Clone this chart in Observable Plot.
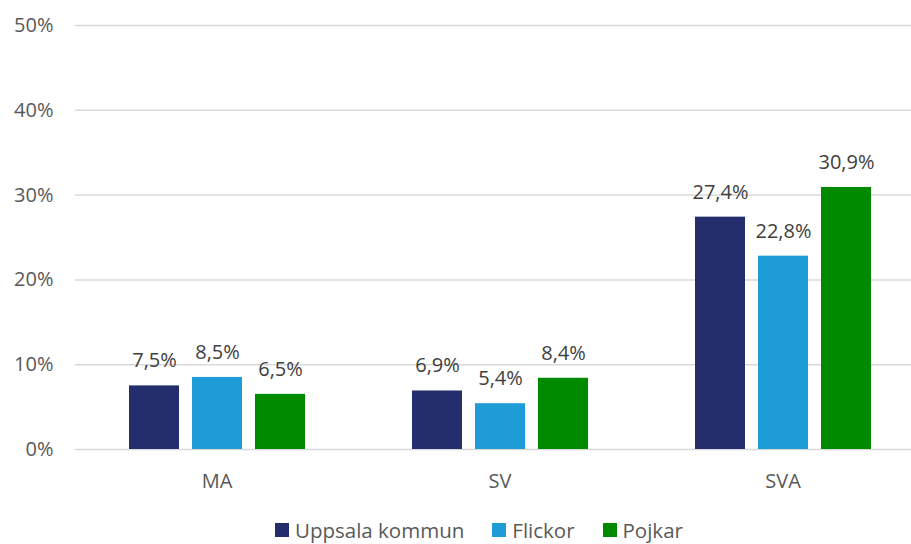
<!DOCTYPE html>
<html>
<head>
<meta charset="utf-8">
<script src="https://cdn.jsdelivr.net/npm/d3@7"></script>
<script src="https://cdn.jsdelivr.net/npm/@observablehq/plot@0.6"></script>
<style>
  html, body { margin: 0; padding: 0; background: #fff; overflow: hidden; }
  #wrap { width: 911px; height: 544px; overflow: hidden; position: relative; }
  #chart { position: absolute; left: 0; top: 0; }
  #legend { position: absolute; left: 275px; top: 519px; display: flex; align-items: center; line-height: 22px;
    font-family: "Open Sans", sans-serif; font-size: 20.5px; color: #595959; white-space: nowrap; }
  #legend .item { display: flex; align-items: center; margin-right: 28px; }
  #legend .sw { width: 14px; height: 14px; margin-right: 6px; }
</style>
</head>
<body>
<div id="wrap"><div id="chart"></div><div id="legend"></div></div>
<script>
const categories = ["MA", "SV", "SVA"];
const series = ["Uppsala kommun", "Flickor", "Pojkar"];
const uppsala = [7.5, 6.9, 27.4];
const flickor = [8.5, 5.4, 22.8];
const pojkar = [6.5, 8.4, 30.9];
const yTicks = [0, 10, 20, 30, 40, 50];
const colors = ["#252E6C", "#1E9CD7", "#008A00"];

const seriesValues = [uppsala, flickor, pojkar];
const data = [];
categories.forEach((cat, i) => {
  series.forEach((s, j) => data.push({cat, series: s, value: seriesValues[j][i]}));
});
const fmt = v => v.toFixed(1).replace(".", ",") + "%";

const chart = Plot.plot({
  width: 924,
  height: 500,
  marginLeft: 74,
  marginRight: 0,
  marginTop: 25,
  marginBottom: 51,
  style: {fontFamily: "Open Sans, sans-serif", fontSize: "20px", color: "#595959", background: "transparent", overflow: "visible", maxWidth: "none"},
  fx: {domain: categories, padding: 0, label: null, axis: null},
  x: {domain: series, paddingInner: 0.214, paddingOuter: 0.853, axis: null},
  y: {domain: [0, 50], label: null, axis: null},
  color: {domain: series, range: colors},
  marks: [
    Plot.ruleY(yTicks, {stroke: "#d9d9d9", strokeWidth: 1.5}),
    Plot.axisY(yTicks, {anchor: "left", tickSize: 0, tickPadding: 22, tickFormat: d => d + "%", label: null, fill: "#595959"}),
    Plot.axisFx({anchor: "bottom", tickSize: 0, tickPadding: 24, label: null, fill: "#595959"}),
    Plot.barY(data, {fx: "cat", x: "series", y: "value", fill: "series"}),
    Plot.text(data, {fx: "cat", x: "series", y: "value", text: d => fmt(d.value), lineAnchor: "middle", dy: -25, fill: "#404040"})
  ]
});
document.getElementById("chart").appendChild(chart);

const legend = document.getElementById("legend");
series.forEach((s, i) => {
  const item = document.createElement("div");
  item.className = "item";
  const sw = document.createElement("div");
  sw.className = "sw";
  sw.style.background = colors[i];
  const label = document.createElement("span");
  label.textContent = s;
  item.appendChild(sw);
  item.appendChild(label);
  legend.appendChild(item);
});
</script>
</body>
</html>
